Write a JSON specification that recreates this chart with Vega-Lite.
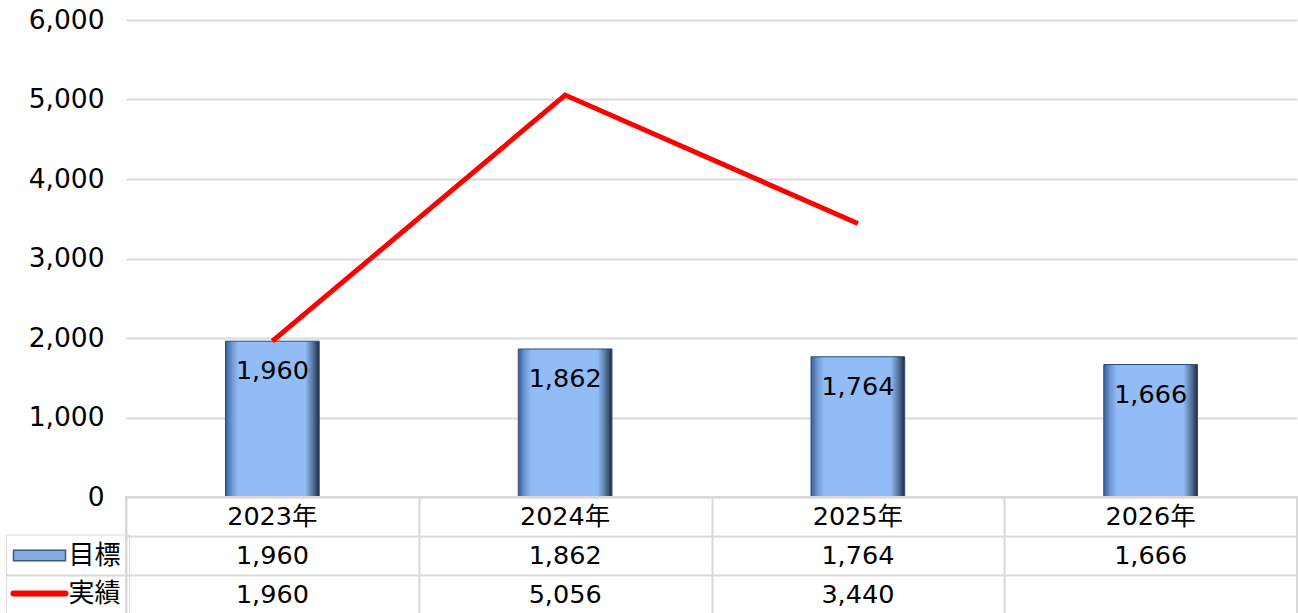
{
  "$schema": "https://vega.github.io/schema/vega-lite/v6.json",
  "autosize": {"type": "pad"},
  "padding": {"left": 4, "top": 7, "right": 0, "bottom": 0},
  "background": "white",
  "spacing": 0,
  "bounds": "flush",
  "config": {"font": "DejaVu Sans, Noto Sans CJK JP", "view": {"stroke": null}},
  "datasets": {
    "d": [
      {"year": "2023年", "目標": 1960, "実績": 1960},
      {"year": "2024年", "目標": 1862, "実績": 5056},
      {"year": "2025年", "目標": 1764, "実績": 3440},
      {"year": "2026年", "目標": 1666, "実績": null}
    ]
  },
  "vconcat": [
    {
      "width": 1171,
      "height": 477,
      "data": {"name": "d"},
      "encoding": {
        "x": {"field": "year", "type": "nominal", "sort": null, "axis": null,
              "scale": {"paddingInner": 0, "paddingOuter": 0}}
      },
      "layer": [
        {
          "mark": {
            "type": "bar",
            "width": {"band": 0.32},
            "fill": {
              "gradient": "linear", "x1": 0, "x2": 1, "y1": 0, "y2": 0,
              "stops": [
                {"offset": 0, "color": "#3a5f99"},
                {"offset": 0.07, "color": "#7099d4"},
                {"offset": 0.14, "color": "#92bcf6"},
                {"offset": 0.85, "color": "#92bcf6"},
                {"offset": 0.93, "color": "#56779f"},
                {"offset": 1, "color": "#1d2b44"}
              ]
            },
            "stroke": "#2c4a78",
            "strokeWidth": 1
          },
          "encoding": {
            "y": {
              "field": "目標", "type": "quantitative",
              "scale": {"domain": [0, 6000]},
              "axis": {
                "title": null,
                "values": [0, 1000, 2000, 3000, 4000, 5000, 6000],
                "format": ",.0f",
                "labelFontSize": 26.5,
                "labelColor": "black",
                "labelPadding": 22,
                "domain": false,
                "ticks": false,
                "gridColor": "#d9d9d9",
                "gridWidth": 2,
                "minExtent": 120,
                "maxExtent": 120
              }
            }
          }
        },
        {
          "mark": {"type": "text", "fontSize": 25.5, "dy": 30, "color": "black"},
          "encoding": {
            "y": {"field": "目標", "type": "quantitative"},
            "text": {"field": "目標", "type": "quantitative", "format": ","}
          }
        },
        {
          "mark": {"type": "line", "color": "#ff0000", "strokeWidth": 5},
          "encoding": {
            "y": {"field": "実績", "type": "quantitative"}
          }
        }
      ]
    },
    {
      "width": 1171,
      "height": 117,
      "data": {"name": "d"},
      "view": {"stroke": "#d9d9d9", "strokeWidth": 2},
      "encoding": {
        "x": {
          "field": "year", "type": "nominal", "sort": null,
          "scale": {"paddingInner": 0, "paddingOuter": 0},
          "axis": {
            "orient": "bottom", "title": null, "labels": false, "ticks": false, "domain": false,
            "grid": true, "tickBand": "extent", "gridColor": "#d9d9d9", "gridWidth": 2
          }
        }
      },
      "layer": [
        {
          "mark": {"type": "text", "fontSize": 25.5, "color": "black"},
          "encoding": {
            "y": {
              "datum": "hdr", "type": "nominal",
              "scale": {"domain": ["hdr", "目標", "実績"], "paddingInner": 0, "paddingOuter": 0},
              "axis": {
                "title": null, "labels": false, "domain": false,
                "ticks": true, "tickSize": 120, "tickWidth": 2, "tickBand": "extent",
                "tickColor": {"condition": {"test": "datum.extra || datum.value === 'hdr'", "value": "transparent"}, "value": "#d9d9d9"},
                "grid": true, "gridColor": "#d9d9d9", "gridWidth": 2,
                "minExtent": 120, "maxExtent": 120
              }
            },
            "text": {"field": "year", "type": "nominal"}
          }
        },
        {
          "transform": [
            {"fold": ["目標", "実績"], "as": ["row", "val"]},
            {"filter": "isValid(datum.val)"}
          ],
          "mark": {"type": "text", "fontSize": 25.5, "color": "black"},
          "encoding": {
            "y": {"field": "row", "type": "nominal"},
            "text": {"field": "val", "type": "quantitative", "format": ","}
          }
        },
        {
          "transform": [
            {"fold": ["目標", "実績"], "as": ["row", "val"]},
            {"filter": "false"}
          ],
          "mark": {"type": "text", "fontSize": 25.5},
          "encoding": {
            "y": {"field": "row", "type": "nominal"},
            "text": {"field": "row", "type": "nominal"},
            "color": {
              "field": "row", "type": "nominal",
              "scale": {"domain": ["目標", "実績"], "range": ["#86acdf", "#ff0000"]},
              "legend": {
                "title": null,
                "orient": "none",
                "legendX": -120,
                "legendY": 514.5,
                "padding": 8,
                "strokeColor": "#d9d9d9",
                "symbolSize": 2704,
                "symbolOffset": 12.5,
                "labelFontSize": 26,
                "labelColor": "black",
                "labelOffset": 16,
                "rowPadding": 12,
                "encode": {
                  "symbols": {
                    "update": {
                      "shape": {"signal": "datum.value === '目標' ? 'M-1,-0.2H1V0.2H-1Z' : 'M-1,0H1'"},
                      "stroke": {"signal": "datum.value === '目標' ? '#3a5a8a' : '#ff0000'"},
                      "strokeWidth": {"signal": "datum.value === '目標' ? 1.5 : 6"},
                      "strokeCap": {"value": "round"},
                      "opacity": {"value": 1}
                    }
                  }
                }
              }
            }
          }
        }
      ]
    }
  ]
}
